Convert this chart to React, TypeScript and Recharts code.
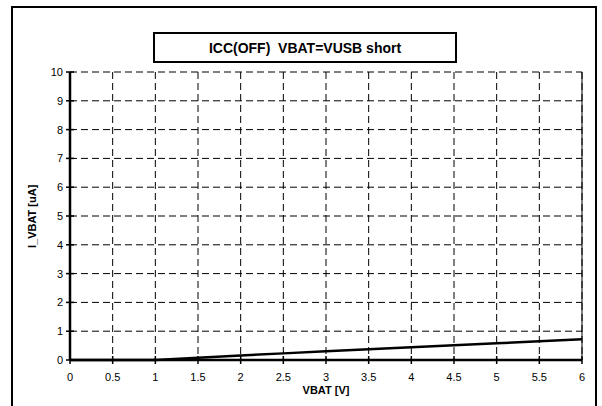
import React from "react";
import { LineChart, Line, XAxis, YAxis, CartesianGrid, ReferenceLine } from "recharts";

// ── Data ──
const VBAT = [0, 0.5, 1, 1.5, 2, 2.5, 3, 3.5, 4, 4.5, 5, 5.5, 6];
const I_VBAT = [0, 0, 0, 0.08, 0.16, 0.23, 0.3, 0.37, 0.44, 0.51, 0.58, 0.65, 0.72];
const X_TICKS = [0, 0.5, 1, 1.5, 2, 2.5, 3, 3.5, 4, 4.5, 5, 5.5, 6];
const Y_TICKS = [0, 1, 2, 3, 4, 5, 6, 7, 8, 9, 10];

const TITLE = "ICC(OFF)  VBAT=VUSB short";
const FONT = "'Liberation Sans', Arial, sans-serif";

const data = VBAT.map((v, i) => ({ v, i: I_VBAT[i] }));

// ── Ticks that cross the axis line ──
function XTick(props: any) {
  const { x, y, payload } = props;
  return (
    <g>
      <line x1={x} x2={x} y1={y - 4} y2={y + 4} stroke="#000" strokeWidth={1.5} />
      <text x={x} y={y + 21} textAnchor="middle" fontSize={11} fontFamily={FONT} fill="#000">
        {payload.value}
      </text>
    </g>
  );
}

function YTick(props: any) {
  const { x, y, payload } = props;
  return (
    <g>
      <line x1={x - 4} x2={x + 4} y1={y} y2={y} stroke="#000" strokeWidth={1.5} />
      <text x={x - 7} y={y + 4} textAnchor="end" fontSize={11} fontFamily={FONT} fill="#000">
        {payload.value}
      </text>
    </g>
  );
}

export default function App() {
  return (
    <div style={{ position: "absolute", left: 0, top: 0, width: 602, height: 406, overflow: "hidden", background: "#fff", fontFamily: FONT }}>
      <div
        style={{
          position: "absolute",
          left: 11,
          top: 6,
          width: 586,
          height: 430,
          border: "2px solid #000",
          boxSizing: "border-box",
        }}
      />
      <div
        style={{
          position: "absolute",
          left: 153,
          top: 32,
          width: 304,
          height: 31,
          border: "2px solid #000",
          boxSizing: "border-box",
          display: "flex",
          alignItems: "center",
          justifyContent: "center",
          fontWeight: "bold",
          fontSize: 14,
          whiteSpace: "pre",
          background: "#fff",
        }}
      >
        {TITLE}
      </div>
      <div style={{ position: "absolute", left: 0, top: 0 }}>
        <LineChart width={602} height={406} data={data} margin={{ top: 72, right: 20, bottom: 16, left: 30 }}>
          <CartesianGrid stroke="#000" strokeDasharray="7 4" strokeWidth={1} />
          <XAxis
            dataKey="v"
            type="number"
            domain={[0, 6]}
            ticks={X_TICKS}
            interval={0}
            height={30}
            tickSize={0}
            tickMargin={0}
            tick={<XTick />}
            axisLine={{ stroke: "#000", strokeWidth: 2.5 }}
            label={{ value: "VBAT [V]", position: "insideBottom", offset: -4, fontSize: 11, fontWeight: "bold", fill: "#000", fontFamily: FONT }}
          />
          <YAxis
            type="number"
            domain={[0, 10]}
            ticks={Y_TICKS}
            interval={0}
            width={40}
            tickSize={0}
            tickMargin={0}
            tick={<YTick />}
            axisLine={{ stroke: "#000", strokeWidth: 2.5 }}
            label={{ value: "I_VBAT [uA]", angle: -90, position: "insideLeft", offset: 2, dy: 32, fontSize: 11, fontWeight: "bold", fill: "#000", fontFamily: FONT }}
          />
          <ReferenceLine x={6} stroke="#000" strokeWidth={1} />
          <Line type="linear" dataKey="i" stroke="#000" strokeWidth={2.5} dot={false} isAnimationActive={false} />
        </LineChart>
      </div>
    </div>
  );
}
